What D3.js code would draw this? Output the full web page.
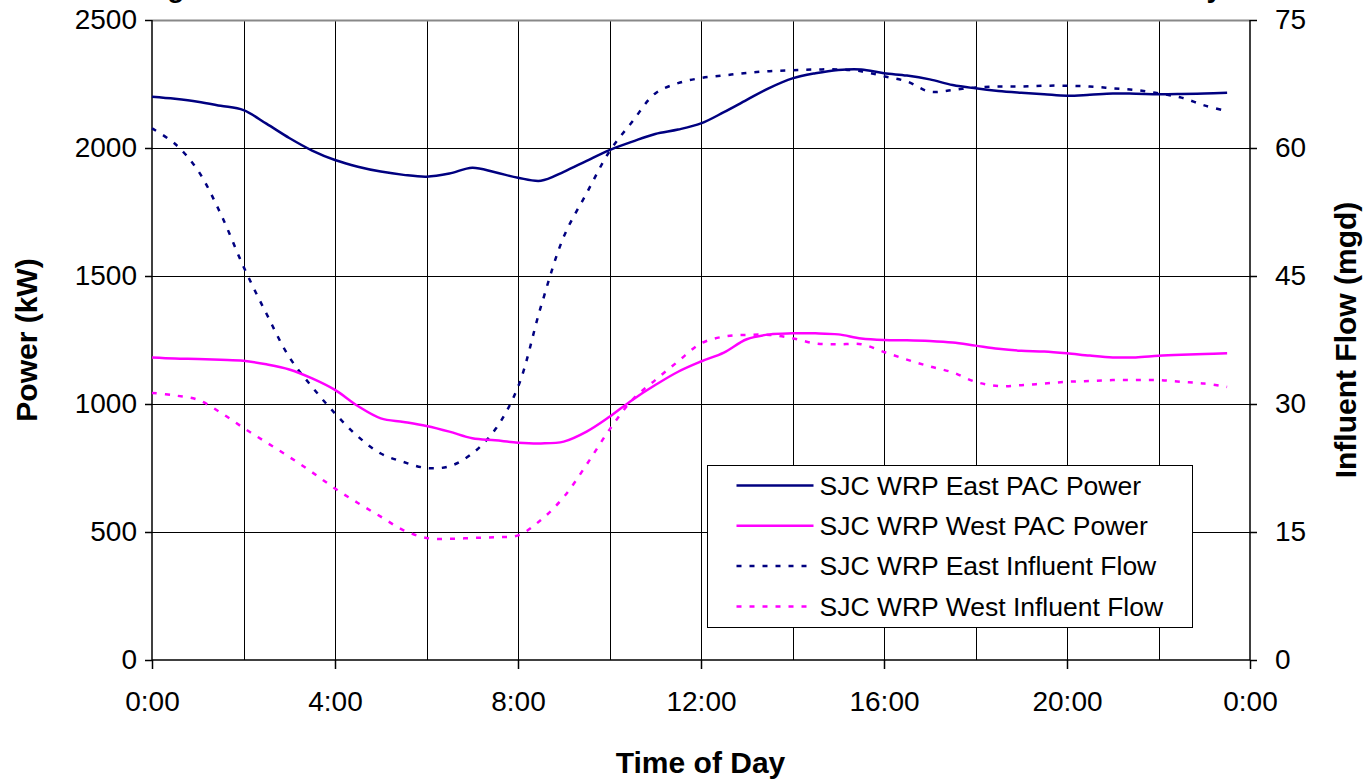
<!DOCTYPE html>
<html>
<head>
<meta charset="utf-8">
<script src="https://cdn.jsdelivr.net/npm/d3@7"></script>
<style>
	body { margin: 0; background: #fff; }
	text { font-family: "Liberation Sans", Arial, sans-serif; }
</style>
</head>
<body>
<div id="chart"></div>
<script>
// half-hour readings, 0:00 .. 23:30
var hours = d3.range(0, 24, 0.5);

var eastPower = [2200, 2192, 2181, 2165, 2148, 2095, 2039, 1990, 1953, 1927, 1908, 1895,
	1888, 1900, 1923, 1905, 1884, 1872, 1907, 1950, 1992, 2025, 2055, 2072,
	2096, 2140, 2188, 2235, 2272, 2292, 2305, 2307, 2292, 2283, 2268, 2246,
	2233, 2223, 2216, 2210, 2204, 2208, 2213, 2212, 2210, 2211, 2213, 2216];

var westPower = [1182, 1178, 1176, 1173, 1169, 1155, 1135, 1100, 1055, 992, 944, 930,
	914, 892, 866, 858, 849, 846, 853, 892, 950, 1016, 1074, 1126,
	1166, 1201, 1253, 1272, 1276, 1276, 1272, 1256, 1250, 1249, 1246, 1240,
	1228, 1216, 1208, 1205, 1198, 1189, 1182, 1182, 1188, 1192, 1195, 1198];

var eastFlow = [62.3, 60.5, 57.4, 52.3, 46.1, 40.6, 35.5, 32.0, 28.9, 26.2, 24.2, 23.2,
	22.5, 22.7, 24.2, 27.0, 32.0, 41.4, 49.6, 54.7, 59.6, 63.1, 66.4, 67.6,
	68.2, 68.5, 68.8, 69.0, 69.1, 69.2, 69.2, 69.0, 68.4, 67.8, 66.6, 66.8,
	67.1, 67.2, 67.2, 67.3, 67.3, 67.2, 67.0, 66.8, 66.4, 65.9, 65.0, 64.3];

var westFlow = [31.3, 31.0, 30.5, 29.0, 27.2, 25.5, 23.8, 22.0, 20.1, 18.4, 16.8, 15.2,
	14.3, 14.2, 14.3, 14.4, 14.6, 16.4, 19.1, 22.9, 27.0, 30.5, 32.8, 35.0,
	37.1, 37.9, 38.1, 38.1, 37.7, 37.1, 37.0, 37.0, 36.1, 35.2, 34.4, 33.7,
	32.6, 32.1, 32.2, 32.4, 32.6, 32.7, 32.8, 32.8, 32.8, 32.6, 32.4, 32.0];

var seriesNames = ["SJC WRP East PAC Power", "SJC WRP West PAC Power",
	"SJC WRP East Influent Flow", "SJC WRP West Influent Flow"];

var xTickLabels = ["0:00", "4:00", "8:00", "12:00", "16:00", "20:00", "0:00"];
var powerTicks = [0, 500, 1000, 1500, 2000, 2500];
var flowTicks = [0, 15, 30, 45, 60, 75];

var titleText = "Figure 4-3: SJC WRP PAC Power and Influent Flow vs. Time of Day";

// sizes
var width = 1369, height = 782;
var m = { left: 152, right: 120, top: 20, bottom: 122 };
var w = width - m.left - m.right;
var h = height - m.top - m.bottom;

var navy = "#000080", pink = "#ff00ff";

var svg = d3.select("#chart").append("svg")
	.attr("width", width)
	.attr("height", height);

// scales
var x = d3.scaleLinear().domain([0, 24]).range([0, w + 1]);
var yL = d3.scaleLinear().domain([0, 2500]).range([h, 0]);
var yR = d3.scaleLinear().domain([0, 75]).range([h, 0]);

var plot = svg.append("g")
	.attr("transform", "translate(" + m.left + "," + m.top + ")");

// gridlines
plot.append("g").selectAll("line")
	.data(d3.range(2, 24, 2))
	.enter().append("line")
	.attr("x1", function(d) { return Math.round(x(d)) + 0.5; })
	.attr("x2", function(d) { return Math.round(x(d)) + 0.5; })
	.attr("y1", 0).attr("y2", h)
	.attr("stroke", "#000").attr("stroke-width", 1);

plot.append("g").selectAll("line")
	.data(powerTicks.slice(1))
	.enter().append("line")
	.attr("x1", 0).attr("x2", x(24))
	.attr("y1", function(d) { return Math.round(yL(d)) + 0.5; })
	.attr("y2", function(d) { return Math.round(yL(d)) + 0.5; })
	.attr("stroke", function(d) { return d == 2500 ? "#888" : "#000"; })
	.attr("stroke-width", function(d) { return d == 2500 ? 2 : 1; });

// left axis
var leftAxis = plot.append("g")
	.call(d3.axisLeft(yL).tickValues(powerTicks).tickSize(7).tickPadding(8)
		.tickFormat(d3.format("d")));
// right axis
var rightAxis = plot.append("g")
	.attr("transform", "translate(" + x(24) + ",0)")
	.call(d3.axisRight(yR).tickValues(flowTicks).tickSize(7).tickPadding(18)
		.tickFormat(d3.format("d")));
// bottom axis
var bottomAxis = plot.append("g")
	.attr("transform", "translate(0," + h + ")")
	.call(d3.axisBottom(x).tickValues(d3.range(0, 25, 4)).tickSize(9).tickPadding(22)
		.tickFormat(function(d, i) { return xTickLabels[i]; }));

[leftAxis, rightAxis, bottomAxis].forEach(function(a) {
	a.selectAll("path").attr("stroke", "#000").attr("stroke-width", 1.5);
	a.selectAll("line").attr("stroke", "#000").attr("stroke-width", 1.5);
	a.selectAll("text")
		.attr("fill", "#000")
		.style("font-size", "28px");
});
leftAxis.select("path").attr("d", "M0," + h + "V0");
rightAxis.select("path").attr("d", "M0," + h + "V0");
bottomAxis.select("path").attr("d", "M0,0H" + x(24));

// lines
var lineL = d3.line()
	.x(function(d, i) { return x(hours[i]); })
	.y(function(d) { return yL(d); })
	.curve(d3.curveCatmullRom);
var lineR = d3.line()
	.x(function(d, i) { return x(hours[i]); })
	.y(function(d) { return yR(d); })
	.curve(d3.curveCatmullRom);

var series = [
	{ name: seriesNames[0], values: eastPower, line: lineL, color: navy, dash: null },
	{ name: seriesNames[1], values: westPower, line: lineL, color: pink, dash: null },
	{ name: seriesNames[2], values: eastFlow, line: lineR, color: navy, dash: "5,8" },
	{ name: seriesNames[3], values: westFlow, line: lineR, color: pink, dash: "5,8" }
];

plot.append("g").selectAll("path")
	.data(series.slice().reverse())
	.enter().append("path")
	.attr("d", function(d) { return d.line(d.values); })
	.attr("fill", "none")
	.attr("stroke", function(d) { return d.color; })
	.attr("stroke-width", 2.5)
	.attr("stroke-dasharray", function(d) { return d.dash; });

// legend
var legend = svg.append("g")
	.attr("transform", "translate(707.5,465.5)");
legend.append("rect")
	.attr("width", 485).attr("height", 162)
	.attr("fill", "#fff").attr("stroke", "#000").attr("stroke-width", 1);

var item = legend.selectAll(".item")
	.data(series)
	.enter().append("g")
	.attr("transform", function(d, i) { return "translate(0," + (20 + i * 40.3) + ")"; });
item.append("line")
	.attr("x1", 29).attr("x2", 106)
	.attr("stroke", function(d) { return d.color; })
	.attr("stroke-width", 2.5)
	.attr("stroke-dasharray", function(d) { return d.dash; });
item.append("text")
	.attr("x", 112).attr("dy", "0.35em")
	.style("font-size", "26.5px")
	.text(function(d) { return d.name; });

// axis titles
svg.append("text")
	.attr("transform", "translate(37," + (m.top + h / 2) + ") rotate(-90)")
	.attr("text-anchor", "middle")
	.style("font-size", "30px").style("font-weight", "bold")
	.text("Power (kW)");

svg.append("text")
	.attr("transform", "translate(1356," + (m.top + h / 2) + ") rotate(-90)")
	.attr("text-anchor", "middle")
	.style("font-size", "30px").style("font-weight", "bold")
	.text("Influent Flow (mgd)");

svg.append("text")
	.attr("x", m.left + w / 2).attr("y", 773)
	.attr("text-anchor", "middle")
	.style("font-size", "30px").style("font-weight", "bold")
	.text("Time of Day");

// title, cut off at the top edge as in the source figure
svg.append("text")
	.attr("x", 136).attr("y", -3)
	.attr("textLength", 1086).attr("lengthAdjust", "spacing")
	.style("font-size", "28px").style("font-weight", "bold")
	.text(titleText);
</script>
</body>
</html>
